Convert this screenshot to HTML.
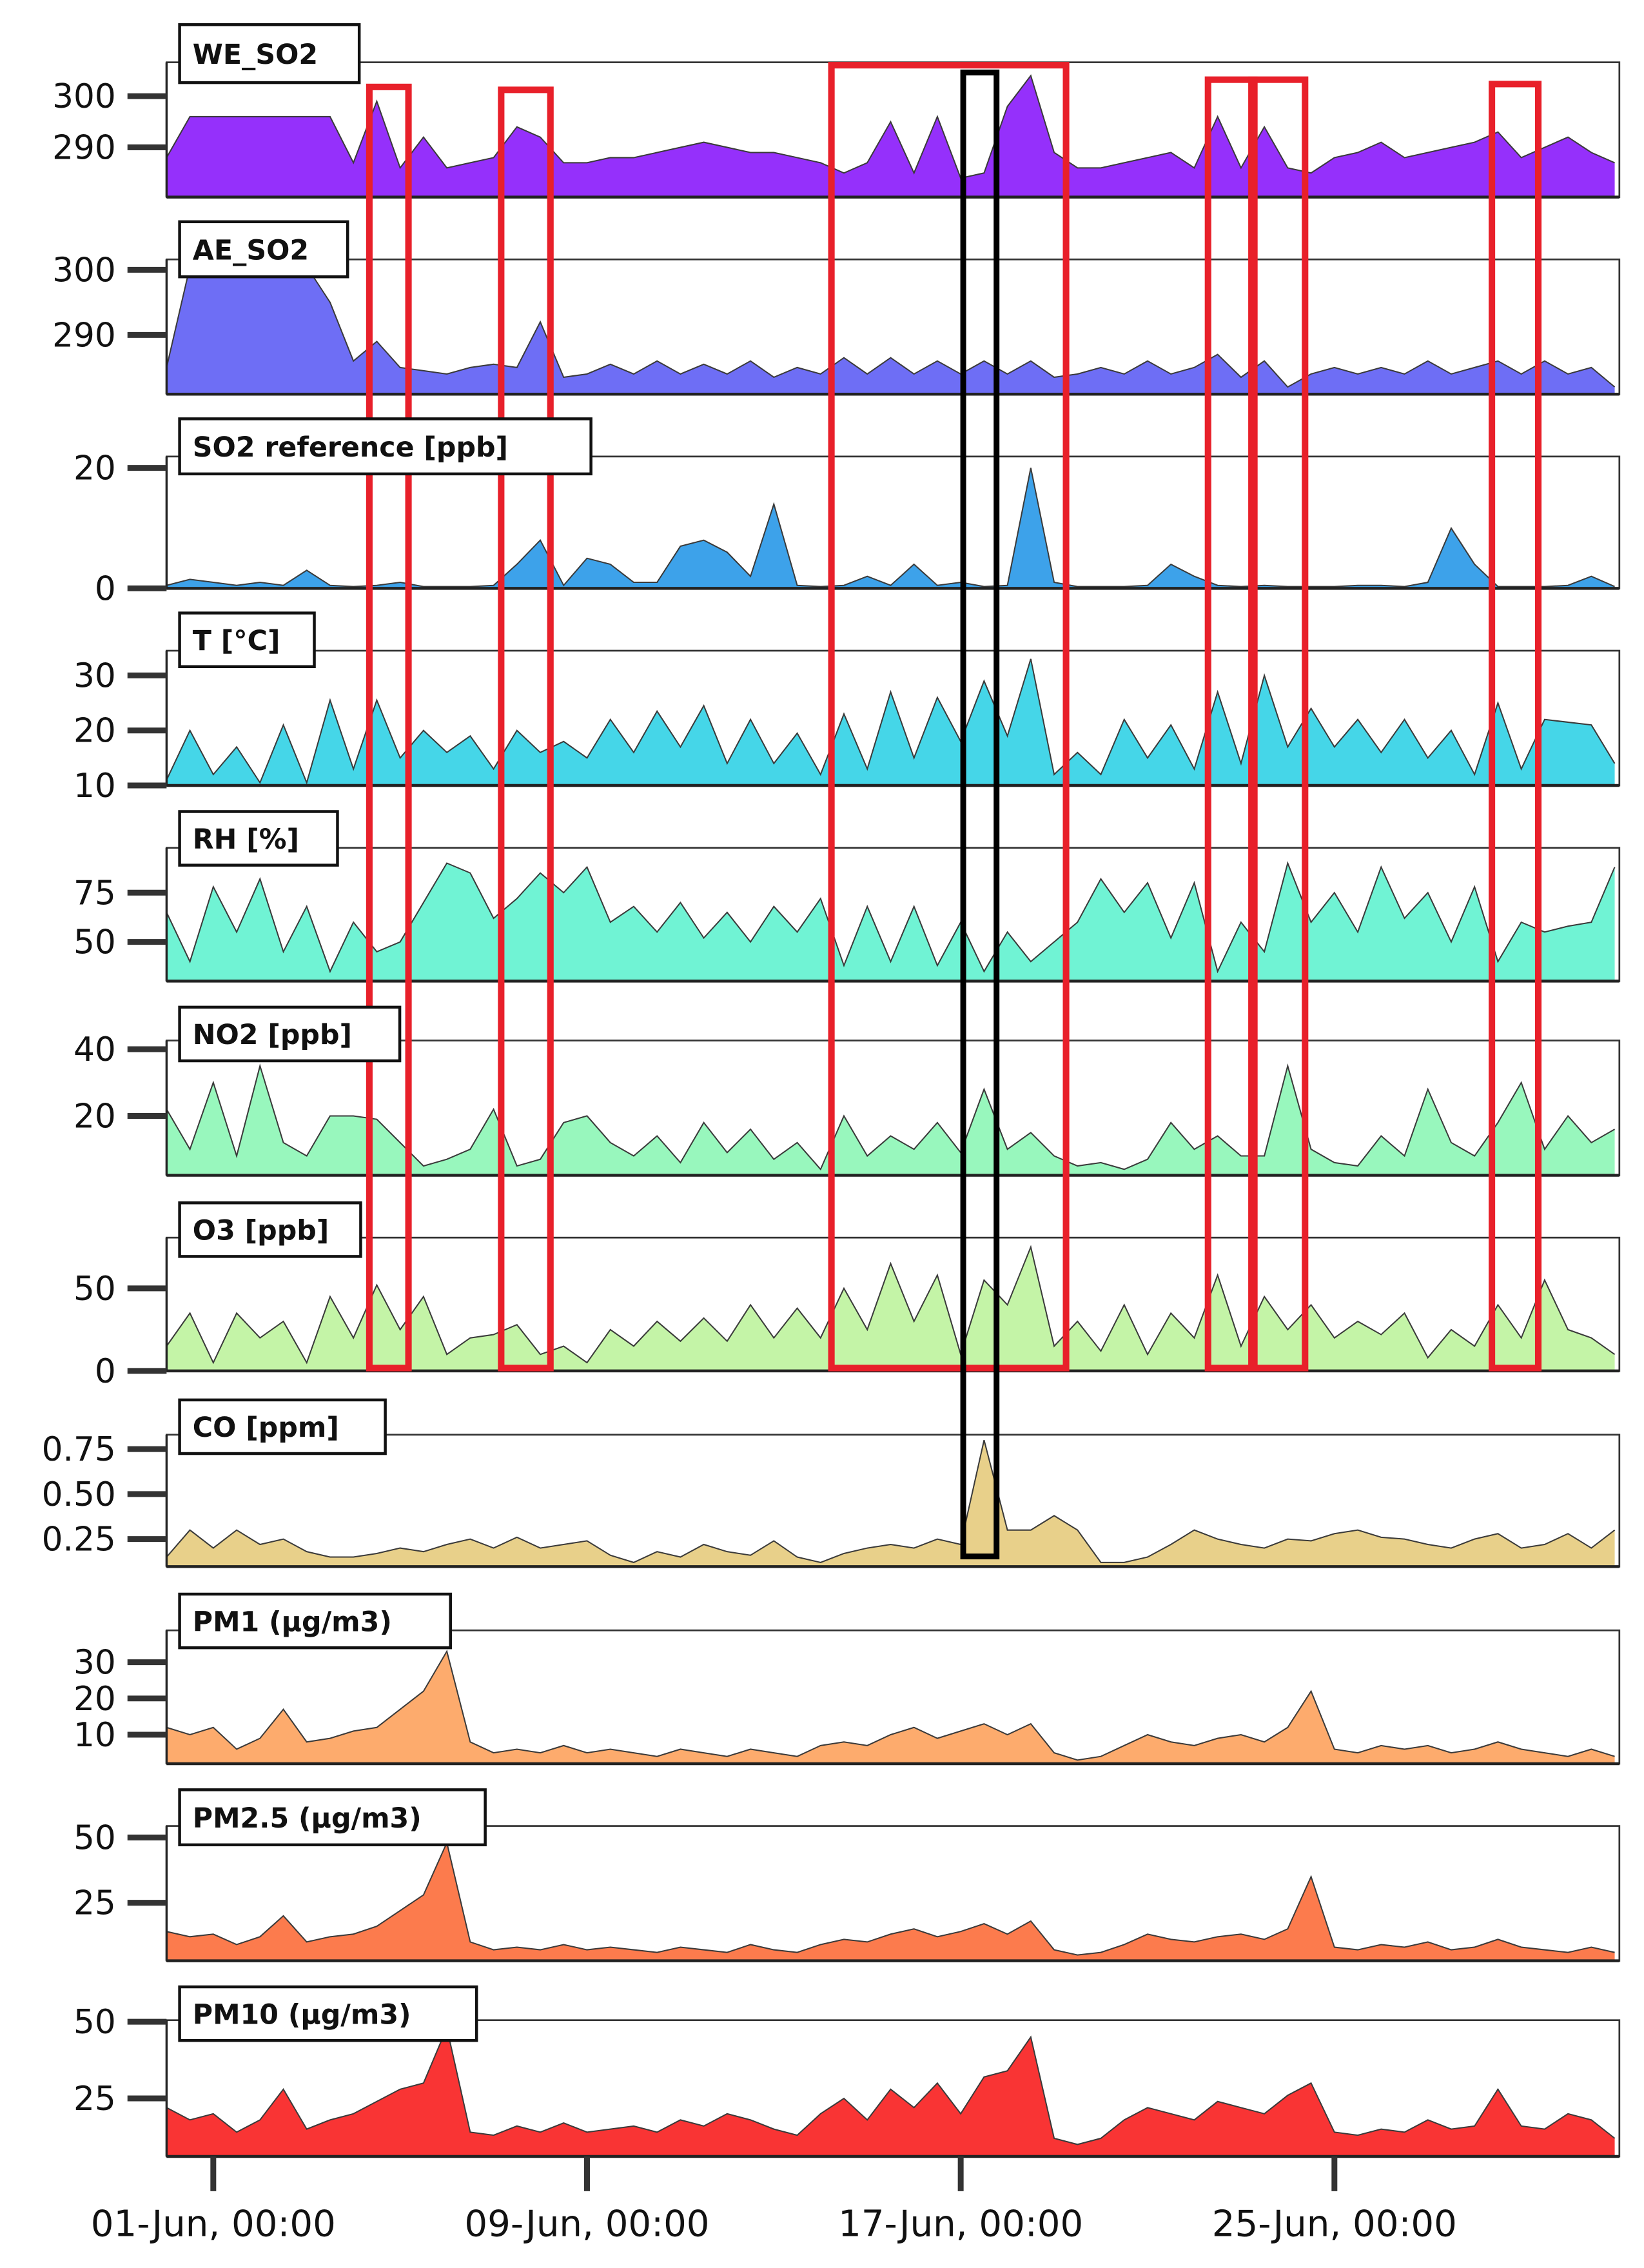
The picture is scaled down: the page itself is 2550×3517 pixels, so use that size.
<!DOCTYPE html>
<html><head><meta charset="utf-8"><style>
html,body{margin:0;padding:0;background:#fff;}
svg{display:block;}
</style></head><body>
<svg id="chart" width="2550" height="3517" viewBox="0 0 1135 1565" preserveAspectRatio="none" xmlns="http://www.w3.org/2000/svg" font-family="'DejaVu Sans', 'Liberation Sans', sans-serif"></svg>
<script>
// time grid: days relative to 01-Jun 00:00, every 12 h
const tStart = -1, tStep = 0.5;
const xTickLabels = ["01-Jun, 00:00","09-Jun, 00:00","17-Jun, 00:00","25-Jun, 00:00"];
const xTickDays = [0, 8, 16, 24];

const weSO2 = [288,296,296,296,296,296,296,296,287,299,286,292,286,287,288,294,292,287,287,288,288,289,290,291,290,289,289,288,287,285,287,295,285,296,284,285,298,304,289,286,286,287,288,289,286,296,286,294,286,285,288,289,291,288,289,290,291,293,288,290,292,289,287];
const aeSO2 = [285,300.5,300.5,300.5,300.5,300.5,300.5,295,286,289,285,284.5,284,285,285.5,285,292,283.5,284,285.5,284,286,284,285.5,284,286,283.5,285,284,286.5,284,286.5,284,286,284,286,284,286,283.5,284,285,284,286,284,285,287,283.5,286,282,284,285,284,285,284,286,284,285,286,284,286,284,285,282];
const so2Ref = [0.5,1.5,1,0.5,1,0.5,3,0.5,0.3,0.5,1,0.3,0.3,0.3,0.5,4,8,0.5,5,4,1,1,7,8,6,2,14,0.5,0.3,0.5,2,0.5,4,0.5,1,0.3,0.5,20,1,0.3,0.3,0.3,0.5,4,2,0.5,0.3,0.5,0.3,0.3,0.3,0.5,0.5,0.3,1,10,4,0.3,0.3,0.3,0.5,2,0.3];
const temp = [11,20,12,17,10.5,21,10.5,25.5,13,25.5,15,20,16,19,13,20,16,18,15,22,16,23.5,17,24.5,14,22,14,19.5,12,23,13,27,15,26,18,29,19,33,12,16,12,22,15,21,13,27,14,30,17,24,17,22,16,22,15,20,12,25,13,22,21.5,21,14];
const rh = [65,40,78,55,82,45,68,35,60,45,50,70,90,85,62,72,85,75,88,60,68,55,70,52,65,50,68,55,72,38,68,40,68,38,60,35,55,40,50,60,82,65,80,52,80,35,60,45,90,60,75,55,88,62,75,50,78,40,60,55,58,60,88];
const no2 = [22,10,30,8,35,12,8,20,20,19,12,5,7,10,22,5,7,18,20,12,8,14,6,18,9,16,7,12,4,20,8,14,10,18,9,28,10,15,8,5,6,4,7,18,10,14,8,8,35,10,6,5,14,8,28,12,8,18,30,10,20,12,16];
const o3 = [15,35,5,35,20,30,5,45,20,52,25,45,10,20,22,28,10,15,5,25,15,30,18,32,18,40,20,38,20,50,25,65,30,58,10,55,40,75,15,30,12,40,10,35,20,58,15,45,25,40,20,30,22,35,8,25,15,40,20,55,25,20,10];
const co = [0.15,0.3,0.2,0.3,0.22,0.25,0.18,0.15,0.15,0.17,0.2,0.18,0.22,0.25,0.2,0.26,0.2,0.22,0.24,0.16,0.12,0.18,0.15,0.22,0.18,0.16,0.24,0.15,0.12,0.17,0.2,0.22,0.2,0.25,0.22,0.8,0.3,0.3,0.38,0.3,0.12,0.12,0.15,0.22,0.3,0.25,0.22,0.2,0.25,0.24,0.28,0.3,0.26,0.25,0.22,0.2,0.25,0.28,0.2,0.22,0.28,0.2,0.3];
const pm1 = [12,10,12,6,9,17,8,9,11,12,17,22,33,8,5,6,5,7,5,6,5,4,6,5,4,6,5,4,7,8,7,10,12,9,11,13,10,13,5,3,4,7,10,8,7,9,10,8,12,22,6,5,7,6,7,5,6,8,6,5,4,6,4];
const pm25 = [14,12,13,9,12,20,10,12,13,16,22,28,48,10,7,8,7,9,7,8,7,6,8,7,6,9,7,6,9,11,10,13,15,12,14,17,13,18,7,5,6,9,13,11,10,12,13,11,15,35,8,7,9,8,10,7,8,11,8,7,6,8,6];
const pm10 = [22,18,20,14,18,28,15,18,20,24,28,30,48,14,13,16,14,17,14,15,16,14,18,16,20,18,15,13,20,25,18,28,22,30,20,32,34,45,12,10,12,18,22,20,18,24,22,20,26,30,14,13,15,14,18,15,16,28,16,15,20,18,12];

const series = [weSO2, aeSO2, so2Ref, temp, rh, no2, o3, co, pm1, pm25, pm10];

const panels = [
 {name:"WE_SO2",top:43,bot:136,min:280.3,max:306.6,ticks:[300,290],tl:["300","290"],color:"#9530fb",lw:124,lh:40,ly:17},
 {name:"AE_SO2",top:179,bot:272,min:280.9,max:301.6,ticks:[300,290],tl:["300","290"],color:"#6e6ef5",lw:116,lh:38,ly:153},
 {name:"SO2 reference [ppb]",top:315,bot:406,min:0,max:21.9,ticks:[20,0],tl:["20","0"],color:"#3da2ea",lw:284,lh:38,ly:289},
 {name:"T [°C]",top:449,bot:542,min:10,max:34.5,ticks:[30,20,10],tl:["30","20","10"],color:"#45d6e8",lw:93,lh:37,ly:423},
 {name:"RH [%]",top:585,bot:677,min:30.1,max:97.8,ticks:[75,50],tl:["75","50"],color:"#70f3d4",lw:109,lh:37,ly:560},
 {name:"NO2 [ppb]",top:718,bot:811,min:2.2,max:42.6,ticks:[40,20],tl:["40","20"],color:"#98f7bd",lw:152,lh:37,ly:695},
 {name:"O3 [ppb]",top:854,bot:946,min:0,max:80.7,ticks:[50,0],tl:["50","0"],color:"#c4f4a7",lw:125,lh:37,ly:830},
 {name:"CO [ppm]",top:990,bot:1081,min:0.097,max:0.83,ticks:[0.75,0.5,0.25],tl:["0.75","0.50","0.25"],color:"#e8d08a",lw:142,lh:37,ly:966},
 {name:"PM1 (µg/m3)",top:1125,bot:1217,min:2,max:38.8,ticks:[30,20,10],tl:["30","20","10"],color:"#fdab6d",lw:187,lh:37,ly:1100},
 {name:"PM2.5 (µg/m3)",top:1260,bot:1353,min:2.8,max:54.4,ticks:[50,25],tl:["50","25"],color:"#fc7b4d",lw:211,lh:38,ly:1235},
 {name:"PM10 (µg/m3)",top:1394,bot:1488,min:6.1,max:50.5,ticks:[50,25],tl:["50","25"],color:"#f93434",lw:205,lh:37,ly:1371}
];

const X0 = 115, X1 = 1118, D0 = -1, D1 = 30.1;
function xScale(d){ return X0 + (d - D0) / (D1 - D0) * (X1 - X0); }
function yScale(p, v){ return p.bot - (v - p.min) / (p.max - p.min) * (p.bot - p.top); }

const NS = "http://www.w3.org/2000/svg";
const svg = document.getElementById("chart");
function mk(tag, attrs, parent){
  const e = document.createElementNS(NS, tag);
  for (const k in attrs) e.setAttribute(k, attrs[k]);
  (parent || svg).appendChild(e);
  return e;
}

panels.forEach((p, pi) => {
  const data = series[pi];
  const g = mk("g", {});
  
  
  let dArea = "M" + xScale(tStart) + "," + p.bot;
  let dLine = "";
  data.forEach((v, i) => {
    const x = xScale(tStart + i * tStep);
    const y = Math.max(p.top, yScale(p, v));
    dArea += " L" + x.toFixed(2) + "," + y.toFixed(2);
    dLine += (i ? " L" : "M") + x.toFixed(2) + "," + y.toFixed(2);
  });
  dArea += " L" + xScale(tStart + (data.length - 1) * tStep) + "," + p.bot + " Z";
  const area = mk("path", {d:dArea, fill:p.color, stroke:"none"}, g);
  
  
  const line = mk("path", {d:dLine, fill:"none", stroke:"#3a3a3a", "stroke-width":0.9}, g);
  
  
  const fr = mk("rect", {x:X0, y:p.top, width:X1 - X0, height:p.bot - p.top, fill:"none", stroke:"#333", "stroke-width":1.2}, g);
  
  
  mk("line", {x1:X0, y1:p.bot, x2:X1, y2:p.bot, stroke:"#222", "stroke-width":2}, g);
  mk("line", {x1:X0, y1:p.top, x2:X0, y2:p.bot, stroke:"#222", "stroke-width":1.5}, g);
  p.ticks.forEach((tv, ti) => {
    const y = yScale(p, tv);
    const tk = mk("line", {x1:88, y1:y, x2:X0, y2:y, stroke:"#333", "stroke-width":4}, g);
    
    
    const tx = mk("text", {x:80, y:y + 8, "text-anchor":"end", "font-size":23, fill:"#111"}, g);
    
    
    tx.textContent = p.tl[ti];
  });
});

xTickDays.forEach((d, i) => {
  const x = xScale(d);
  const tk = mk("line", {x1:x, y1:1488, x2:x, y2:1512, stroke:"#333", "stroke-width":4});
  
  
  const t = mk("text", {x:x, y:1543, "text-anchor":"middle", "font-size":25, fill:"#111"});
  
  
  t.textContent = xTickLabels[i];
});

const redBoxes = [[255,60,282,944],[346,62,380,944],[574,45,736,944],[834,55,866,944],[864,55,901,944],[1030,58,1062,944]];
redBoxes.forEach(b => {
  const r = mk("rect", {x:b[0], y:b[1], width:b[2]-b[0], height:b[3]-b[1], fill:"none", stroke:"#e8202a", "stroke-width":4.5});
  
  
});
const bk = mk("rect", {x:665, y:50, width:23, height:1024, fill:"none", stroke:"#000", "stroke-width":4});



// panel labels drawn on top of highlight boxes
panels.forEach(p => {
  const lb = mk("rect", {x:124, y:p.ly, width:p.lw, height:p.lh, fill:"#fff", stroke:"#111", "stroke-width":2});
  
  
  const lt = mk("text", {x:133, y:p.ly + p.lh/2 + 7, "font-size":19, "font-weight":"bold", fill:"#111"});
  
  
  lt.textContent = p.name;
});
</script>
</body></html>
